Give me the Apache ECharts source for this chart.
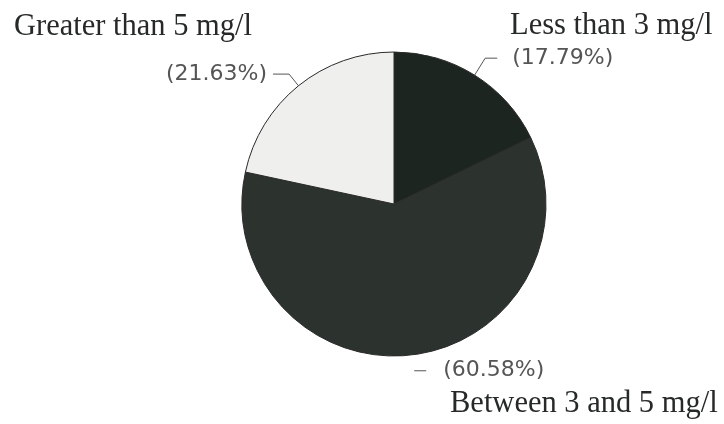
<!DOCTYPE html>
<html>
<head>
<meta charset="utf-8">
<script src="https://cdn.jsdelivr.net/npm/echarts@6/dist/echarts.min.js"></script>
<style>
  html, body { margin: 0; padding: 0; background: #ffffff; }
  #chart { width: 724px; height: 424px; }
</style>
</head>
<body>
<div id="chart"></div>
<script>
// Dissolved oxygen classes and their share of samples (%)
const categories = ['Less than 3 mg/l', 'Between 3 and 5 mg/l', 'Greater than 5 mg/l'];
const shares = [17.79, 60.58, 21.63];
const sliceColors = ['#1d2520', '#2c332e', '#efefed'];

// leader line segments and label offsets, one entry per slice
const leader = [
  { length: 20, length2: 12, padding: [19, 0, 0, 9] },
  { length: 16, length2: 12, padding: [8, 0, 0, 11] },
  { length: 15, length2: 16, padding: [0, 0, 12, 0] }
];
// where each category name is written
const namePos = [
  { x: 510, y: 26 },
  { x: 450, y: 404 },
  { x: 14, y: 27 }
];

const chart = echarts.init(document.getElementById('chart'), null, { renderer: 'canvas' });

chart.setOption({
  backgroundColor: '#ffffff',
  animation: false,
  series: [{
    type: 'pie',
    center: [394, 204],
    radius: 152,
    startAngle: 90,
    clockwise: true,
    avoidLabelOverlap: false,
    percentPrecision: 2,
    silent: true,
    itemStyle: { borderColor: '#2a2a2a', borderWidth: 1 },
    label: {
      show: true,
      position: 'outside',
      formatter: '({d}%)',
      fontFamily: 'DejaVu Sans',
      fontSize: 22,
      color: '#555555',
      distanceToLabelLine: 6
    },
    labelLine: {
      show: true,
      lineStyle: { color: '#555555', width: 1 }
    },
    // the middle slice keeps only the short horizontal tick of its leader
    labelLayout: function (p) {
      if (p.dataIndex === 1 && p.labelLinePoints) {
        const pts = p.labelLinePoints;
        return { labelLinePoints: [pts[1].slice(), pts[1].slice(), pts[2].slice()] };
      }
      return {};
    },
    data: shares.map(function (v, i) {
      return {
        name: categories[i],
        value: v,
        itemStyle: { color: sliceColors[i] },
        label: { padding: leader[i].padding },
        labelLine: { length: leader[i].length, length2: leader[i].length2 }
      };
    })
  }],
  graphic: categories.map(function (c, i) {
    return {
      type: 'text',
      x: namePos[i].x,
      y: namePos[i].y,
      silent: true,
      style: {
        text: c,
        fontFamily: 'Liberation Serif',
        fontSize: 30.5,
        fill: '#262a27',
        verticalAlign: 'middle'
      }
    };
  })
});
</script>
</body>
</html>
